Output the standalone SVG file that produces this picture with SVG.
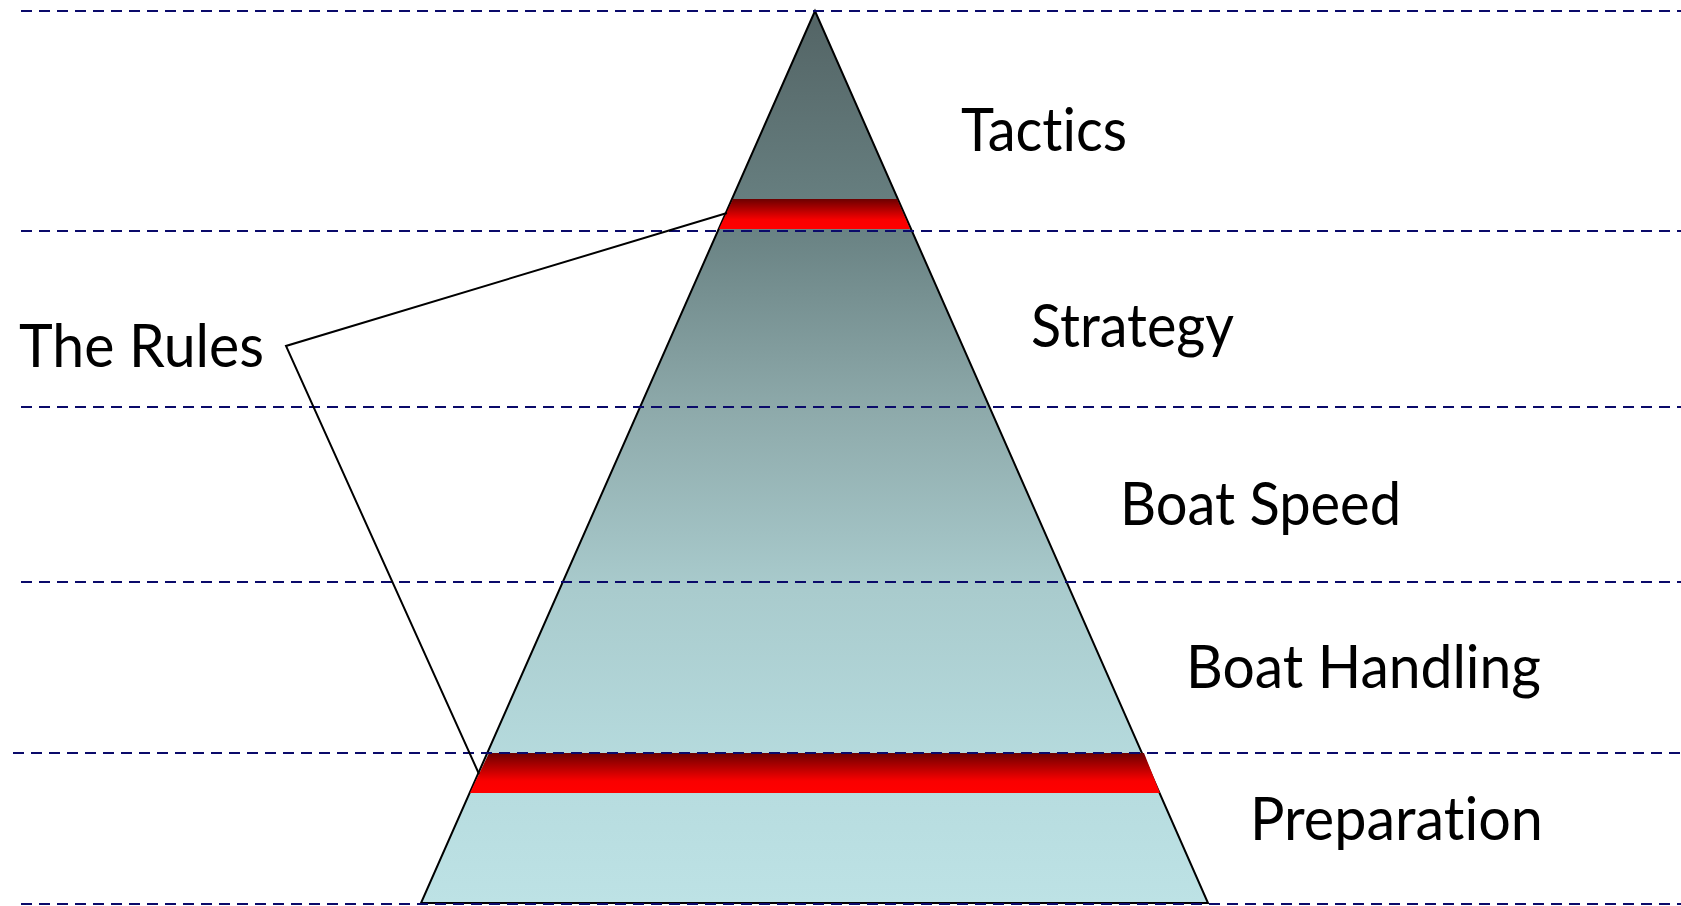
<svg xmlns="http://www.w3.org/2000/svg" width="1681" height="906" viewBox="0 0 1681 906">
  <defs>
    <linearGradient id="pyr" x1="0" y1="11" x2="0" y2="903" gradientUnits="userSpaceOnUse">
      <stop offset="0" stop-color="#536465"/>
      <stop offset="0.25" stop-color="#6a8384"/>
      <stop offset="0.45" stop-color="#8eaaab"/>
      <stop offset="0.65" stop-color="#a9cbcd"/>
      <stop offset="0.85" stop-color="#b6dbde"/>
      <stop offset="1" stop-color="#bde2e5"/>
    </linearGradient>
    <linearGradient id="red" x1="0" y1="0" x2="0" y2="1">
      <stop offset="0" stop-color="#6c0000"/>
      <stop offset="0.7" stop-color="#fa0000"/>
      <stop offset="1" stop-color="#ff0000"/>
    </linearGradient>
  </defs>
  <style>
    .lbl { font-family: Lato, "Open Sans", "Liberation Sans", sans-serif; font-size: 60px; fill: #000; font-variant-ligatures: none; font-feature-settings: "liga" 0, "clig" 0; }
    .dash { stroke: #0a0a6a; stroke-width: 2.2; stroke-dasharray: 11 7; fill: none; }
    .conn { stroke: #000; stroke-width: 2; fill: none; }
  </style>
  <rect width="1681" height="906" fill="#fff"/>
  <g id="pyramid">
    <polygon points="815,11 421,903 1208,903" fill="url(#pyr)" stroke="#000" stroke-width="2" stroke-linejoin="miter"/>
  </g>
  <g id="rules-band-top">
    <polygon points="733,199 897,199 910,229 719,229" fill="url(#red)"/>
  </g>
  <g id="rules-band-bottom">
    <polygon points="489,753 1144,753 1160,793 470,793" fill="url(#red)"/>
  </g>
  <g id="dividers">
    <line class="dash" x1="21" y1="11" x2="1681" y2="11"/>
    <line class="dash" x1="21" y1="231" x2="1681" y2="231"/>
    <line class="dash" x1="21" y1="407" x2="1681" y2="407"/>
    <line class="dash" x1="21" y1="582" x2="1681" y2="582"/>
    <line class="dash" x1="13" y1="753" x2="1681" y2="753"/>
    <line class="dash" x1="21" y1="904" x2="1681" y2="904"/>
  </g>
  <g id="connectors">
    <polyline class="conn" points="727,213 286,346 479,774"/>
  </g>
  <g id="label-tactics"><text class="lbl" x="961" y="151" textLength="166" lengthAdjust="spacingAndGlyphs">Tactics</text></g>
  <g id="label-strategy"><text class="lbl" x="1031" y="347" textLength="203" lengthAdjust="spacingAndGlyphs">Strategy</text></g>
  <g id="label-boat-speed"><text class="lbl" x="1120" y="525" textLength="281" lengthAdjust="spacingAndGlyphs">Boat Speed</text></g>
  <g id="label-boat-handling"><text class="lbl" x="1186" y="688" textLength="355" lengthAdjust="spacingAndGlyphs">Boat Handling</text></g>
  <g id="label-preparation"><text class="lbl" x="1250" y="840" textLength="293" lengthAdjust="spacingAndGlyphs">Preparation</text></g>
  <g id="label-the-rules"><text class="lbl" x="19" y="367" textLength="245" lengthAdjust="spacingAndGlyphs">The Rules</text></g>
</svg>
